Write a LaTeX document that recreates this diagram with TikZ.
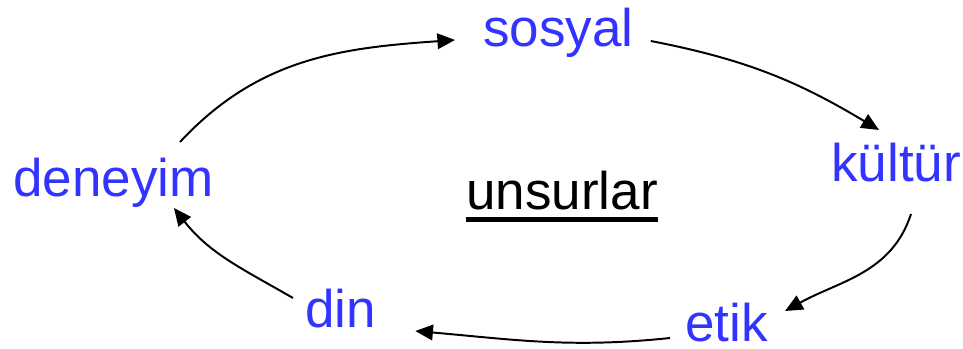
\documentclass[tikz,border=0pt]{standalone}
\usepackage{fontspec}
\setmainfont{Liberation Sans}
\usetikzlibrary{arrows.meta}
\definecolor{itemblue}{RGB}{51,51,255}
\newcommand{\thickul}[1]{\setbox0\hbox{#1}\rlap{\rule[-0.22em]{\wd0}{0.09em}}\box0}

\begin{document}
\begin{tikzpicture}[x=0.025cm,y=0.025cm,
		item/.style={text=itemblue,inner sep=0pt,anchor=base west,font=\fontsize{37.7}{44}\selectfont},
		flow/.style={-{Triangle[length=4.4mm,width=3.9mm]},line width=1.4pt,black}]
			\useasboundingbox (0,0) rectangle (963,349);
			\node[item] (sosyal)   at (483,302) {sosyal};
			\node[item] (kultur)   at (831,167) {kültür};
			\node[item] (etik)     at (685,7)   {etik};
			\node[item] (din)      at (305,21)  {din};
			\node[item] (deneyim)  at (13,152)  {deneyim};
			\node[item,text=black] (unsurlar) at (466,139) {\thickul{unsurlar}};
			% cycle of arrows
			\draw[flow] ([shift={(167,55)}]deneyim.base west) to[out=47,in=184] ([shift={(-28,7)}]sosyal.base west);
			\draw[flow] ([shift={(17,6)}]sosyal.base east) to[out=-11,in=149] ([shift={(48,52)}]kultur.base west);
			\draw[flow] ([shift={(80,-32)}]kultur.base west) to[out=252,in=29] ([shift={(17,31)}]etik.base east);
			\draw[flow] ([shift={(-15,4)}]etik.base west) to[out=186,in=-5] ([shift={(39,-3)}]din.base east);
			\draw[flow] ([shift={(-12,30)}]din.base west) to[out=150,in=-52] ([shift={(-40,-11)}]deneyim.base east);
	\end{tikzpicture}
\end{document}
